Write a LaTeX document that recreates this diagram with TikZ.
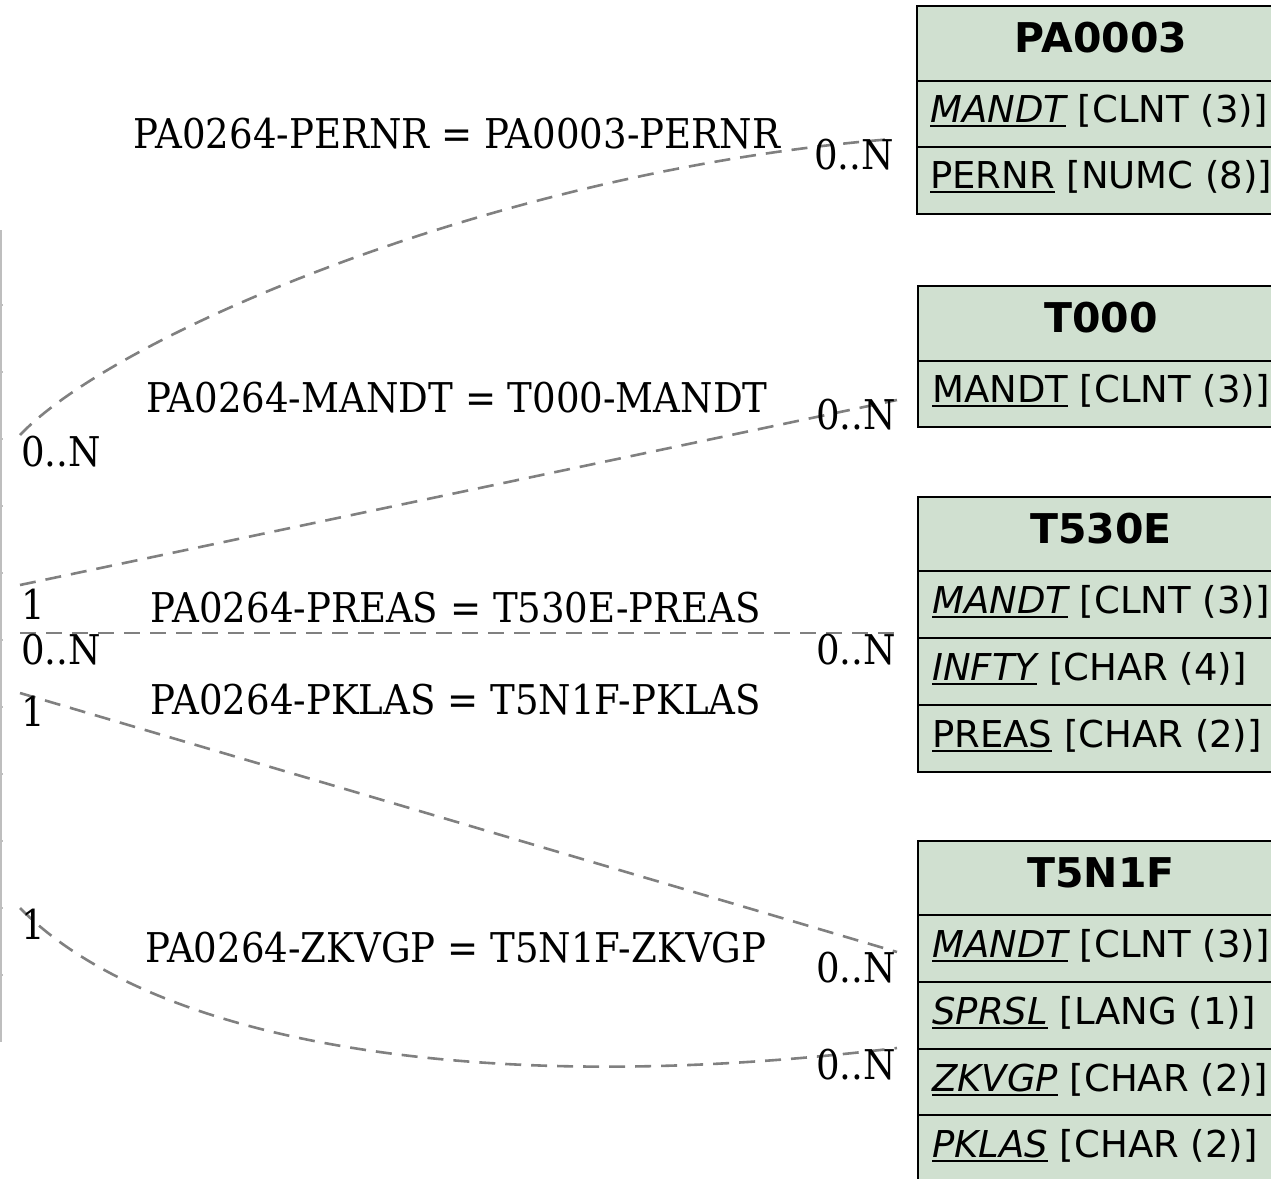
\documentclass[tikz,border=0pt]{standalone}
\usepackage{fontspec}
\setmainfont{Liberation Serif}
\newfontfamily\relfont[FakeStretch=0.905]{DejaVu Serif}
\newfontfamily\dejavu{DejaVu Sans}
\definecolor{tabfill}{RGB}{208,224,208}
\definecolor{relgray}{RGB}{128,128,128}
\definecolor{edgegray}{RGB}{190,190,190}
\newcommand\fieldul[1]{\begingroup\setbox0\hbox{#1}\rlap{\rule[-4.5pt]{\wd0}{1.8pt}}\box0\endgroup}
\tikzset{
  rel/.style={draw=relgray, line width=2.6pt, dash pattern=on 16pt off 10pt},
  lbl/.style={font=\relfont\fontsize{41}{41}\selectfont, inner sep=0pt, anchor=base},
  card/.style={font=\relfont\fontsize{41}{41}\selectfont, inner sep=0pt, anchor=base west},
  tabbox/.style={fill=tabfill, draw=black, line width=2.4pt},
  tabline/.style={draw=black, line width=2.4pt},
  hdr/.style={font=\dejavu\bfseries\fontsize{41}{41}\selectfont, inner sep=0pt, anchor=base},
  fld/.style={font=\dejavu\fontsize{37}{37}\selectfont, inner sep=0pt, anchor=base west},
}
\begin{document}
\begin{tikzpicture}[x=1pt,y=-1pt]
\useasboundingbox (0,0) rectangle (1271,1178);
\clip (0,0) rectangle (1271,1178);

% left table edge (PA0264, cut off)
\draw[edgegray, line width=1.5pt] (0.75,230) -- (0.75,1042);
\foreach \yy in {305,372,439,506,573,640,707,774,841,908,975}
  \draw[edgegray, line width=1.5pt] (0,\yy) -- (3,\yy);

% PA0003
\draw[tabbox] (917,6) rectangle (1290,214);
\draw[tabline] (917,81) -- (1290,81);
\draw[tabline] (917,147) -- (1290,147);
\node[hdr] (pa0003) at (1101,52) {PA0003};
\node[fld] (pa0003mandt) at (930,122) {\fieldul{\itshape MANDT} [CLNT (3)]};
\node[fld] (pa0003pernr) at (930,188) {\fieldul{PERNR} [NUMC (8)]};

% T000
\draw[tabbox] (918,286) rectangle (1290,427);
\draw[tabline] (918,361) -- (1290,361);
\node[hdr] (t000) at (1101,332) {T000};
\node[fld] (t000mandt) at (932,402) {\fieldul{MANDT} [CLNT (3)]};

% T530E
\draw[tabbox] (918,497) rectangle (1290,772);
\draw[tabline] (918,571) -- (1290,571);
\draw[tabline] (918,638) -- (1290,638);
\draw[tabline] (918,705) -- (1290,705);
\node[hdr] (t530e) at (1101,543) {T530E};
\node[fld] (t530emandt) at (932,613) {\fieldul{\itshape MANDT} [CLNT (3)]};
\node[fld] (t530einfty) at (932,680) {\fieldul{\itshape INFTY} [CHAR (4)]};
\node[fld] (t530epreas) at (932,747) {\fieldul{PREAS} [CHAR (2)]};

% T5N1F
\draw[tabbox] (918,841) rectangle (1290,1200);
\draw[tabline] (918,915) -- (1290,915);
\draw[tabline] (918,982) -- (1290,982);
\draw[tabline] (918,1049) -- (1290,1049);
\draw[tabline] (918,1115) -- (1290,1115);
\node[hdr] (t5n1f) at (1101,887) {T5N1F};
\node[fld] (t5n1fmandt) at (932,957) {\fieldul{\itshape MANDT} [CLNT (3)]};
\node[fld] (t5n1fsprsl) at (932,1024) {\fieldul{\itshape SPRSL} [LANG (1)]};
\node[fld] (t5n1fzkvgp) at (932,1091) {\fieldul{\itshape ZKVGP} [CHAR (2)]};
\node[fld] (t5n1fpklas) at (932,1157) {\fieldul{\itshape PKLAS} [CHAR (2)]};

% connector end points
\coordinate (l1) at (20,435);  \coordinate (r1) at (893,139);
\coordinate (l2) at (20,585);  \coordinate (r2) at (897,400);
\coordinate (l3) at (20,633);  \coordinate (r3) at (897,633);
\coordinate (l4) at (20,693);  \coordinate (r4) at (897,952);
\coordinate (l5) at (20,908);  \coordinate (r5) at (897,1048);

\draw[rel] (l1) .. controls (115,335) and (500,170) .. (r1);
\draw[rel] (l2) -- (r2);
\draw[rel] (l3) -- (r3);
\draw[rel] (l4) -- (r4);
\draw[rel] (l5) .. controls (150,1040) and (470,1100) .. (r5);

% relation labels
\node[lbl] (e1) at (457,148) {PA0264-PERNR = PA0003-PERNR};
\node[lbl] (e2) at (457,412) {PA0264-MANDT = T000-MANDT};
\node[lbl] (e3) at (456,622) {PA0264-PREAS = T530E-PREAS};
\node[lbl] (e4) at (456,714) {PA0264-PKLAS = T5N1F-PKLAS};
\node[lbl] (e5) at (456,962) {PA0264-ZKVGP = T5N1F-ZKVGP};

% cardinalities
\node[card] (c1l) at (21,466) {0..N};
\node[card] (c1r) at (814,169) {0..N};
\node[card] (c2l) at (21,619) {1};
\node[card] (c2r) at (816,429) {0..N};
\node[card] (c3l) at (21,664) {0..N};
\node[card] (c3r) at (816,664) {0..N};
\node[card] (c4l) at (21,726) {1};
\node[card] (c4r) at (816,982) {0..N};
\node[card] (c5l) at (21,939) {1};
\node[card] (c5r) at (816,1079) {0..N};
\end{tikzpicture}
\end{document}
